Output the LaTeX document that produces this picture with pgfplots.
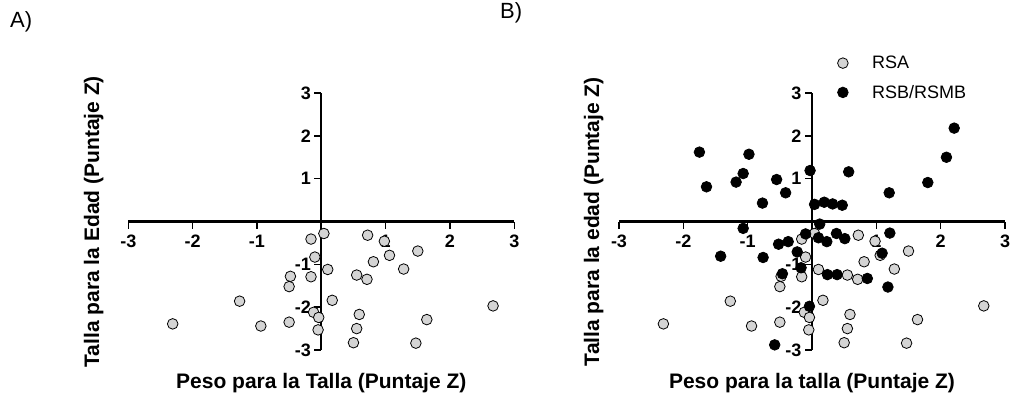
\documentclass[border=0pt]{standalone}
\usepackage{fontspec}
\setmainfont{Liberation Sans}
\usepackage{pgfplots}
\pgfplotsset{compat=1.18}

\definecolor{rsagrey}{RGB}{212,212,212}

% RSA: same points in both panels
\pgfplotstableread{
x y
0.04 -0.28
-0.16 -0.41
0.72 -0.32
0.98 -0.46
1.50 -0.69
1.06 -0.79
-0.10 -0.83
0.81 -0.94
0.10 -1.12
1.28 -1.11
-0.48 -1.28
-0.16 -1.29
0.55 -1.25
0.71 -1.35
-0.50 -1.52
-1.27 -1.86
0.17 -1.84
2.67 -1.97
-0.12 -2.12
-0.04 -2.24
0.59 -2.17
1.64 -2.29
-2.31 -2.39
-0.94 -2.44
-0.50 -2.35
-0.05 -2.53
0.55 -2.50
0.50 -2.83
1.47 -2.84
}\rsa

\pgfplotstableread{
x y
-1.75 1.62
-1.64 0.81
-0.98 1.57
-1.07 1.12
-1.18 0.92
-0.55 0.98
-0.41 0.67
-0.77 0.43
-0.03 1.19
0.57 1.16
0.04 0.40
0.19 0.45
0.32 0.41
0.47 0.38
1.20 0.67
1.80 0.91
2.09 1.50
2.21 2.18
-1.07 -0.16
0.12 -0.06
-1.42 -0.81
-0.76 -0.84
-0.52 -0.53
-0.37 -0.47
-0.10 -0.29
-0.23 -0.71
-0.17 -1.08
-0.46 -1.22
0.10 -0.38
0.23 -0.47
0.38 -0.28
0.51 -0.40
1.21 -0.27
1.09 -0.74
0.24 -1.24
0.39 -1.24
0.86 -1.33
1.18 -1.53
-0.04 -1.98
-0.58 -2.88
}\rsb

\pgfplotsset{
  zscat/.style={
    width=386pt, height=257pt, scale only axis,
    xmin=-3, xmax=3, ymin=-3, ymax=3,
    axis lines=middle,
    axis line style={-, line width=2.2pt},
    xtick={-3,-2,-1,1,2,3}, ytick={-3,-2,-1,1,2,3},
    xticklabels={-3,-2,-1,1,2,3}, yticklabels={-3,-2,-1,1,2,3},
    minor x tick num=19, minor y tick num=1,
    tick align=outside,
    major tick length=7pt, minor tick length=3pt,
    major tick style={line width=1.6pt, black},
    minor tick style={line width=0.7pt, black},
    ticklabel style={font=\fontsize{18}{18}\selectfont\bfseries},
    xticklabel style={yshift=-3pt},
    clip=false,
  },
  grey pt/.style={only marks, mark=*, mark size=5.3pt,
    mark options={fill=rsagrey, draw=black, line width=0.8pt}},
  black pt/.style={only marks, mark=*, mark size=5.3pt,
    mark options={fill=black, draw=black, line width=0.8pt}},
}

\begin{document}
\begin{tikzpicture}
\useasboundingbox (0,0) rectangle (1015pt,400pt);

\begin{axis}[zscat, at={(128.3pt,50pt)}, anchor=south west]
  \addplot[grey pt] table {\rsa};
\end{axis}

\begin{axis}[zscat, at={(619pt,50pt)}, anchor=south west,
    legend style={at={(0.558,1.16)}, anchor=north west, draw=none, fill=none,
      font=\fontsize{18}{18}\selectfont, row sep=11pt,
      /tikz/every odd column/.append style={column sep=22pt}},
    legend cell align=left]
  \addplot[grey pt] table {\rsa};
  \addlegendentry{RSA}
  \addplot[black pt] table {\rsb};
  \addlegendentry{RSB/RSMB}
\end{axis}

\node[font=\fontsize{21}{21}\selectfont\bfseries, anchor=base] at (321.3pt,12pt)
  {Peso para la Talla (Puntaje Z)};
\node[font=\fontsize{21}{21}\selectfont\bfseries, anchor=base, rotate=90] at (99pt,178.3pt)
  {Talla para la Edad (Puntaje Z)};
\node[font=\fontsize{21}{21}\selectfont\bfseries, anchor=base] at (812pt,12pt)
  {Peso para la talla (Puntaje Z)};
\node[font=\fontsize{21}{21}\selectfont\bfseries, anchor=base, rotate=90] at (599pt,178.3pt)
  {Talla para la edad (Puntaje Z)};

\node[font=\fontsize{22}{22}\selectfont, anchor=base west, inner sep=0pt] at (10pt,372pt) {A)};
\node[font=\fontsize{22}{22}\selectfont, anchor=base west, inner sep=0pt] at (500pt,381pt) {B)};
\end{tikzpicture}
\end{document}
